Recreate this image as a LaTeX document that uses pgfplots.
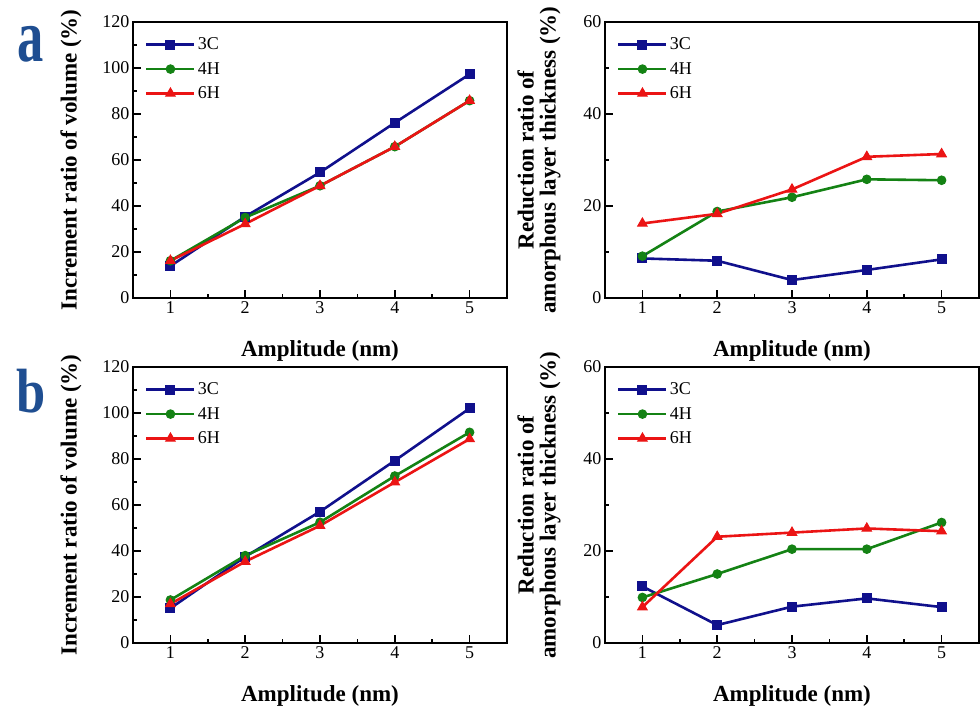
\documentclass[border=0pt]{standalone}
\usepackage{fontspec}
\setmainfont{Liberation Serif}
\usepackage{graphicx}
\usepackage{pgfplots}
\pgfplotsset{compat=1.18}

\definecolor{c3C}{RGB}{16,16,140}
\definecolor{c4H}{RGB}{20,130,20}
\definecolor{c6H}{RGB}{235,20,20}
\definecolor{plabel}{RGB}{31,78,145}

\pgfplotsset{
  panel/.style={
    scale only axis, width=374pt, height=276pt,
    xmin=0.5, xmax=5.5, xtick={1,2,3,4,5}, minor x tick num=1,
    tick align=inside, xtick pos=bottom, ytick pos=left,
    major tick length=8pt, minor tick length=4pt,
    axis line style={line width=2pt},
    every tick/.style={line width=1.6pt, black},
    tick label style={font=\fontsize{18}{20}\selectfont},
    /pgf/number format/assume math mode=true,
    label style={font=\fontsize{23}{22}\selectfont\bfseries},
    xlabel={Amplitude (nm)},
    xlabel style={yshift=-20pt},
    legend style={draw=none, fill=none, at={(0.032,0.95)}, anchor=north west,
      font=\fontsize{18}{20}\selectfont, row sep=7pt, inner sep=0pt},
    legend cell align=left,
    legend image code/.code={\draw[mark repeat=2,mark phase=2,##1] plot coordinates {(0pt,0pt) (24pt,0pt) (48pt,0pt)};},
  },
  left/.style={panel, ymin=0, ymax=120, ytick={0,20,...,120}, minor y tick num=1,
    ylabel={Increment ratio of volume (\%)}, ylabel style={yshift=14pt}},
  right/.style={panel, ymin=0, ymax=60, ytick={0,20,40,60}, minor y tick num=1,
    ylabel={Reduction ratio of\\amorphous layer thickness (\%)},
    ylabel style={align=center, yshift=16pt}},
  s3C/.style={color=c3C, line width=2.6pt, mark=square*, mark size=4.5pt, mark options={solid, line width=1pt}},
  s4H/.style={color=c4H, line width=2.6pt, mark=*, mark size=4.3pt, mark options={solid, line width=1pt}},
  s6H/.style={color=c6H, line width=2.6pt, mark=triangle*, mark size=5.5pt, mark options={solid, line width=1pt}},
}

\begin{document}
\begin{tikzpicture}
\path[use as bounding box] (0pt,0pt) rectangle (980pt,-708pt);

\node[font=\fontsize{50}{50}\selectfont\bfseries, text=plabel, anchor=base, inner sep=0pt] at (31pt,-62pt) {\scalebox{1.05}[1.5]{a}};
\node[font=\fontsize{50}{50}\selectfont\bfseries, text=plabel, anchor=base, inner sep=0pt] at (31pt,-413pt) {\scalebox{1.05}[1.25]{b}};

% (a) volume
\begin{axis}[left, at={(133pt,-298pt)}, anchor=south west]
\addplot[s3C] coordinates {(1,13.9) (2,35.4) (3,54.6) (4,76.2) (5,97.3)};
\addplot[s4H] coordinates {(1,16.2) (2,35.0) (3,48.8) (4,65.8) (5,85.8)};
\addplot[s6H] coordinates {(1,16.2) (2,32.2) (3,48.8) (4,65.8) (5,85.8)};
\legend{3C, 4H, 6H}
\end{axis}

% (a) amorphous layer
\begin{axis}[right, at={(605pt,-298pt)}, anchor=south west]
\addplot[s3C] coordinates {(1,8.6) (2,8.1) (3,3.9) (4,6.1) (5,8.4)};
\addplot[s4H] coordinates {(1,9.1) (2,18.8) (3,21.9) (4,25.8) (5,25.6)};
\addplot[s6H] coordinates {(1,16.2) (2,18.3) (3,23.6) (4,30.7) (5,31.3)};
\legend{3C, 4H, 6H}
\end{axis}

% (b) volume
\begin{axis}[left, at={(133pt,-643pt)}, anchor=south west]
\addplot[s3C] coordinates {(1,15.1) (2,37.5) (3,57.1) (4,79.3) (5,102.0)};
\addplot[s4H] coordinates {(1,18.7) (2,38.0) (3,52.5) (4,72.6) (5,91.6)};
\addplot[s6H] coordinates {(1,17.0) (2,35.4) (3,51.0) (4,69.9) (5,88.7)};
\legend{3C, 4H, 6H}
\end{axis}

% (b) amorphous layer
\begin{axis}[right, at={(605pt,-643pt)}, anchor=south west]
\addplot[s3C] coordinates {(1,12.3) (2,3.9) (3,7.9) (4,9.7) (5,7.8)};
\addplot[s4H] coordinates {(1,9.9) (2,15.0) (3,20.4) (4,20.4) (5,26.2)};
\addplot[s6H] coordinates {(1,7.8) (2,23.1) (3,24.0) (4,24.9) (5,24.3)};
\legend{3C, 4H, 6H}
\end{axis}
\end{tikzpicture}
\end{document}
